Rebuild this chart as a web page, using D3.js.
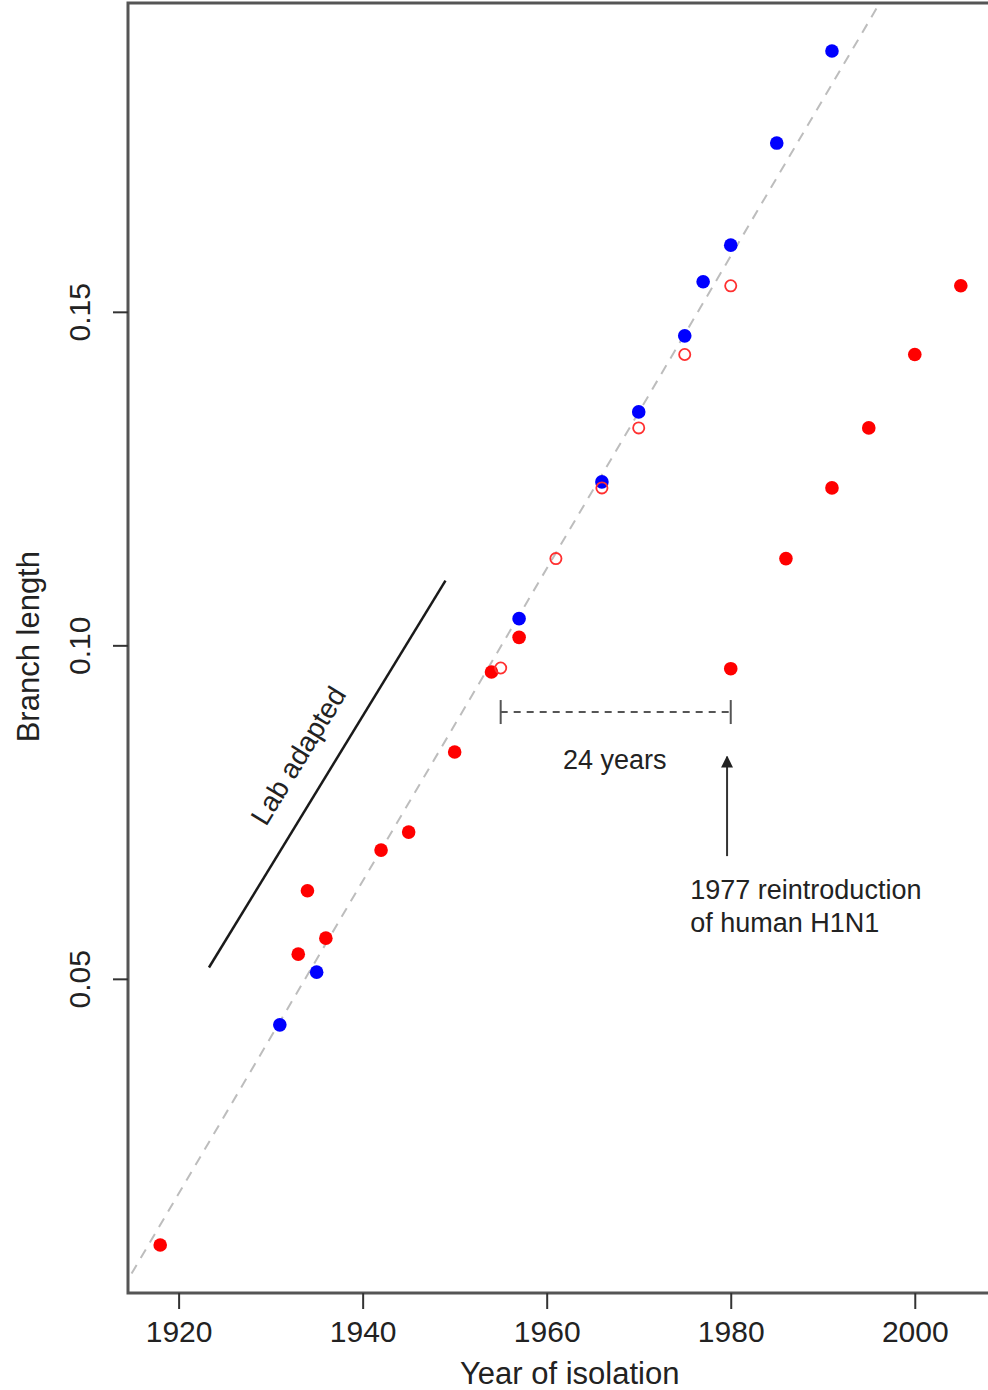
<!DOCTYPE html>
<html>
<head>
<meta charset="utf-8">
<script src="https://cdn.jsdelivr.net/npm/d3@7"></script>
<style>
  body { margin: 0; background: #fff; }
  svg text { font-family: "Liberation Sans", Arial, Helvetica, sans-serif; fill: #222; }
</style>
</head>
<body>
<svg id="chart" width="988" height="1390"></svg>
<script>
// red filled points: year, branch length
const redYears  = [1918, 1933, 1934, 1936, 1942, 1945, 1950, 1954, 1957, 1980, 1986, 1991, 1995, 2000, 2005];
const redValues = [0.0101, 0.0537, 0.0632, 0.0561, 0.0693, 0.0720, 0.0840, 0.0960, 0.1012, 0.0965, 0.1130, 0.1236, 0.1326, 0.1436, 0.1539];

// red open points
const openYears  = [1955, 1961, 1966, 1970, 1975, 1980];
const openValues = [0.0966, 0.1130, 0.1236, 0.1326, 0.1436, 0.1539];

// blue points
const blueYears  = [1931, 1935, 1957, 1966, 1970, 1975, 1977, 1980, 1985, 1991];
const blueValues = [0.0431, 0.0510, 0.1040, 0.1245, 0.1350, 0.1464, 0.1545, 0.1600, 0.1753, 0.1891];

// dashed trend (clock) line
const trendYears  = [1900, 2020];
const trendValues = [0.0131 - 18 * 0.002343, 0.0131 + 102 * 0.002343];

// "Lab adapted" guide line
const labYears  = [1923.3, 1949.0];
const labValues = [0.0517, 0.1097];

// 24-year bracket and arrow
const bracketYears = [1955, 1980];
const bracketValue = 0.0900;
const arrowYear = 1979.6;
const arrowValues = [0.0684, 0.0833];

const xTicks = [1920, 1940, 1960, 1980, 2000];
const yTicks = [0.05, 0.10, 0.15];

const svg = d3.select('#chart');
const plotLeft = 128, plotRight = 993, plotTop = 3, plotBottom = 1293;

const x = d3.scaleLinear().domain([1914.5, 2008.5]).range([plotLeft, plotRight]);
const y = d3.scaleLinear().domain([0.0029, 0.1963]).range([plotBottom, plotTop]);

const defs = svg.append('defs');
defs.append('clipPath').attr('id', 'plotclip')
  .append('rect')
    .attr('x', plotLeft).attr('y', plotTop + 3)
    .attr('width', plotRight - plotLeft).attr('height', plotBottom - plotTop - 3);

// trend line
svg.append('line')
    .attr('clip-path', 'url(#plotclip)')
    .attr('x1', x(trendYears[0])).attr('y1', y(trendValues[0]))
    .attr('x2', x(trendYears[1])).attr('y2', y(trendValues[1]))
    .attr('stroke', '#bdbdbd')
    .attr('stroke-width', 2)
    .attr('stroke-dasharray', '10,8');

// lab adapted line
svg.append('line')
    .attr('x1', x(labYears[0])).attr('y1', y(labValues[0]))
    .attr('x2', x(labYears[1])).attr('y2', y(labValues[1]))
    .attr('stroke', '#1a1a1a')
    .attr('stroke-width', 2.5);

let labAngle = Math.atan2(y(labValues[1]) - y(labValues[0]), x(labYears[1]) - x(labYears[0])) * 180 / Math.PI;
svg.append('text')
    .attr('transform', `translate(${x(1933.9)},${y(0.0827)}) rotate(${labAngle})`)
    .attr('text-anchor', 'middle')
    .style('font-size', '28px')
    .text('Lab adapted');

// bracket
svg.append('line')
    .attr('x1', x(bracketYears[0])).attr('x2', x(bracketYears[1]))
    .attr('y1', y(bracketValue)).attr('y2', y(bracketValue))
    .attr('stroke', '#555').attr('stroke-width', 2)
    .attr('stroke-dasharray', '7,6');
bracketYears.forEach(yr => {
  svg.append('line')
      .attr('x1', x(yr)).attr('x2', x(yr))
      .attr('y1', y(bracketValue) - 12).attr('y2', y(bracketValue) + 12)
      .attr('stroke', '#555').attr('stroke-width', 2);
});

svg.append('text')
    .attr('x', x(1967.4)).attr('y', y(0.0815))
    .attr('text-anchor', 'middle')
    .style('font-size', '27px')
    .text('24 years');

// arrow
defs.append('marker')
    .attr('id', 'arrowhead')
    .attr('viewBox', '0 0 10 10')
    .attr('refX', 9).attr('refY', 5)
    .attr('markerWidth', 6).attr('markerHeight', 6)
    .attr('markerUnits', 'strokeWidth')
    .attr('orient', 'auto')
  .append('path')
    .attr('d', 'M0,0 L10,5 L0,10 z')
    .attr('fill', '#222');

svg.append('line')
    .attr('x1', x(arrowYear)).attr('x2', x(arrowYear))
    .attr('y1', y(arrowValues[0])).attr('y2', y(arrowValues[1]))
    .attr('stroke', '#333').attr('stroke-width', 2)
    .attr('marker-end', 'url(#arrowhead)');

svg.append('text')
    .attr('x', x(1975.6)).attr('y', 899)
    .style('font-size', '27px')
    .text('1977 reintroduction');
svg.append('text')
    .attr('x', x(1975.6)).attr('y', 932)
    .style('font-size', '27px')
    .text('of human H1N1');

// points
const red = redYears.map((d, i) => ({year: d, value: redValues[i]}));
const open = openYears.map((d, i) => ({year: d, value: openValues[i]}));
const blue = blueYears.map((d, i) => ({year: d, value: blueValues[i]}));

svg.append('g').selectAll('circle')
  .data(red).join('circle')
    .attr('cx', d => x(d.year)).attr('cy', d => y(d.value))
    .attr('r', 6.8)
    .attr('fill', '#ff0000');

svg.append('g').selectAll('circle')
  .data(blue).join('circle')
    .attr('cx', d => x(d.year)).attr('cy', d => y(d.value))
    .attr('r', 6.8)
    .attr('fill', '#0000ff');

svg.append('g').selectAll('circle')
  .data(open).join('circle')
    .attr('cx', d => x(d.year)).attr('cy', d => y(d.value))
    .attr('r', 5.6)
    .attr('fill', 'none')
    .attr('stroke', '#ff3030')
    .attr('stroke-width', 1.8);

// box
svg.append('rect')
    .attr('x', plotLeft).attr('y', plotTop)
    .attr('width', plotRight - plotLeft).attr('height', plotBottom - plotTop)
    .attr('fill', 'none')
    .attr('stroke', '#555')
    .attr('stroke-width', 3);

// axes
const xAxis = svg.append('g')
    .attr('transform', `translate(0,${plotBottom})`)
    .call(d3.axisBottom(x).tickValues(xTicks).tickSize(16).tickPadding(12).tickFormat(d3.format('d')));
xAxis.select('.domain').remove();
xAxis.selectAll('line').attr('stroke', '#333').attr('stroke-width', 2);
xAxis.selectAll('text').style('font-size', '30px').attr('fill', '#222');

const yAxis = svg.append('g')
    .attr('transform', `translate(${plotLeft},0)`)
    .call(d3.axisLeft(y).tickValues(yTicks).tickSize(15).tickFormat(d3.format('.2f')));
yAxis.select('.domain').remove();
yAxis.selectAll('line').attr('stroke', '#333').attr('stroke-width', 2);
yAxis.selectAll('text')
    .style('font-size', '30px')
    .attr('fill', '#222')
    .attr('x', null).attr('dy', null)
    .attr('text-anchor', 'middle')
    .attr('transform', 'translate(-38,0) rotate(-90)');

// axis titles
svg.append('text')
    .attr('x', x(1962.5)).attr('y', 1384)
    .attr('text-anchor', 'middle')
    .style('font-size', '31px')
    .text('Year of isolation');

svg.append('text')
    .attr('transform', `translate(39,${y(0.0998)}) rotate(-90)`)
    .attr('text-anchor', 'middle')
    .style('font-size', '31px')
    .text('Branch length');
</script>
</body>
</html>
